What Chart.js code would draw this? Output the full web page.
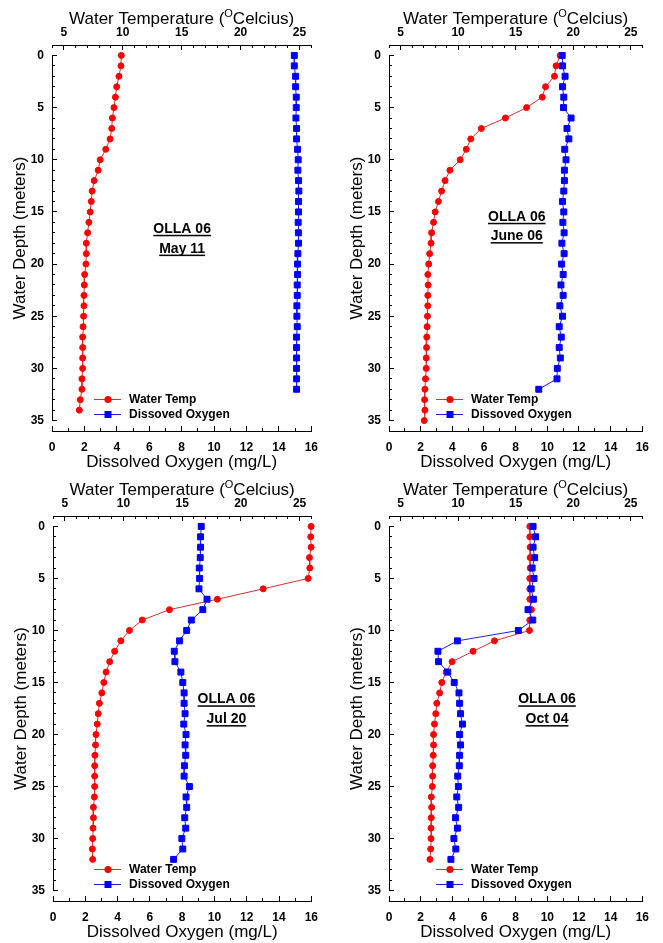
<!DOCTYPE html>
<html lang="en">
  <head>
    <meta charset="utf-8" />
    <title>OLLA 06 Profiles</title>
    <style>
      body { margin: 0; background: #fff; }
      #wrap { position: relative; width: 663px; height: 943px; }
      canvas { position: absolute; }
    </style>
  </head>
  <body>
    <div id="wrap">
      <canvas id="c1" width="332" height="470" style="left:0;top:0"></canvas>
      <canvas id="c2" width="331" height="470" style="left:332px;top:0"></canvas>
      <canvas id="c3" width="332" height="470" style="left:0;top:470px"></canvas>
      <canvas id="c4" width="331" height="470" style="left:332px;top:470px"></canvas>
    </div>

    <script src="https://cdn.jsdelivr.net/npm/chart.js"></script>

    <script>
      // depth of each sample (m), shared by every profile
      const depths = [0, 1, 2, 3, 4, 5, 6, 7, 8, 9, 10, 11, 12, 13, 14, 15, 16, 17,
        18, 19, 20, 21, 22, 23, 24, 25, 26, 27, 28, 29, 30, 31, 32, 33, 34, 35];

      const may11Temp = [9.88, 9.85, 9.68, 9.49, 9.38, 9.26, 9.12, 9.07, 8.93, 8.56, 8.09, 7.92,
        7.58, 7.41, 7.33, 7.24, 7.13, 7.02, 6.91, 6.91, 6.88, 6.77, 6.74, 6.71, 6.71, 6.68, 6.63,
        6.6, 6.6, 6.6, 6.6, 6.54, 6.54, 6.4, 6.32];
      const may11Oxygen = [14.95, 14.95, 15.03, 15.03, 15.07, 15.07, 15.05, 15.09, 15.09, 15.15,
        15.19, 15.17, 15.21, 15.23, 15.21, 15.21, 15.19, 15.2, 15.21, 15.17, 15.15, 15.15, 15.13,
        15.13, 15.11, 15.11, 15.13, 15.09, 15.09, 15.09, 15.09, 15.09, 15.09];

      const jun06Temp = [18.87, 18.51, 18.37, 17.59, 17.31, 15.95, 14.11, 12.02, 11.1, 10.71,
        10.18, 9.29, 8.87, 8.57, 8.29, 8.01, 7.87, 7.7, 7.65, 7.53, 7.45, 7.37, 7.4, 7.37, 7.37,
        7.34, 7.31, 7.28, 7.26, 7.23, 7.23, 7.17, 7.12, 7.09, 7.12, 7.06];
      const jun06Oxygen = [10.94, 10.96, 11.12, 10.96, 11.04, 11.02, 11.5, 11.24, 11.36, 11.1,
        11.18, 11.08, 11.08, 11.04, 10.96, 11.04, 10.98, 11.06, 10.92, 11.06, 10.9, 11.0, 10.86,
        11.0, 10.79, 10.96, 10.75, 10.88, 10.75, 10.82, 10.63, 10.61, 9.46];

      const jul20Temp = [25.98, 25.95, 25.98, 25.84, 25.87, 25.73, 21.9, 18.0, 13.92, 11.6, 10.51,
        9.78, 9.25, 8.83, 8.52, 8.33, 8.16, 7.95, 7.85, 7.77, 7.66, 7.62, 7.57, 7.55, 7.55, 7.55,
        7.52, 7.44, 7.44, 7.41, 7.38, 7.35, 7.38];
      const jul20Oxygen = [9.18, 9.14, 9.14, 9.12, 9.06, 9.08, 9.04, 9.54, 9.28, 8.57, 8.28, 7.84,
        7.51, 7.55, 7.92, 8.04, 8.12, 8.12, 8.18, 8.1, 8.24, 8.18, 8.22, 8.14, 8.12, 8.45, 8.24,
        8.28, 8.16, 8.22, 7.98, 8.04, 7.47];

      const oct04Temp = [16.23, 16.23, 16.26, 16.26, 16.26, 16.23, 16.23, 16.23, 16.37, 16.23,
        16.2, 13.16, 11.3, 9.48, 8.96, 8.59, 8.4, 8.15, 8.06, 7.95, 7.87, 7.87, 7.84, 7.79, 7.79,
        7.76, 7.67, 7.7, 7.67, 7.65, 7.65, 7.62, 7.56];
      const oct04Oxygen = [9.1, 9.26, 9.1, 9.2, 9.04, 9.16, 8.98, 9.12, 8.78, 9.08, 8.17, 4.32,
        3.09, 3.13, 3.71, 4.12, 4.42, 4.46, 4.52, 4.64, 4.46, 4.52, 4.46, 4.44, 4.34, 4.38, 4.28,
        4.4, 4.2, 4.32, 4.1, 4.22, 3.91];

      // axis ticks
      const tempTicks = [5, 10, 15, 20, 25];
      const tempMinorTicks = [4, 5, 6, 7, 8, 9, 10, 11, 12, 13, 14, 15, 16, 17, 18, 19, 20, 21,
        22, 23, 24, 25, 26];
      const oxygenTicks = [0, 2, 4, 6, 8, 10, 12, 14, 16];
      const oxygenMinorTicks = [0, 1, 2, 3, 4, 5, 6, 7, 8, 9, 10, 11, 12, 13, 14, 15, 16];
      const depthTicks = [0, 5, 10, 15, 20, 25, 30, 35];

      const seriesLabels = ["Water Temp", "Dissoved Oxygen"];
      const stationName = "OLLA 06";

      const panels = [
        { id: "c1", date: "May 11", temp: may11Temp, oxygen: may11Oxygen,
          left: 52, right: 17, top: 45, legendDx: 42, note: { x: 8.03, y1: 17.0, y2: 18.9 } },
        { id: "c2", date: "June 06", temp: jun06Temp, oxygen: jun06Oxygen,
          left: 57, right: 9, top: 45, legendDx: 47, note: { x: 8.07, y1: 15.85, y2: 17.7 } },
        { id: "c3", date: "Jul 20", temp: jul20Temp, oxygen: jul20Oxygen,
          left: 53, right: 17, top: 46, legendDx: 41, note: { x: 10.74, y1: 17.0, y2: 18.9 } },
        { id: "c4", date: "Oct 04", temp: oct04Temp, oxygen: oct04Oxygen,
          left: 57, right: 9, top: 46, legendDx: 47, note: { x: 9.98, y1: 17.0, y2: 18.9 } },
      ];

      const FONT = "Arial, 'Liberation Sans', Helvetica, sans-serif";
      const tickFont = { family: FONT, size: 12, weight: "bold" };

      function toPoints(values) {
        return values.map((v, i) => ({ x: v, y: depths[i] }));
      }

      function setTicks(list) {
        return (scale) => {
          scale.ticks = list.map((v) => ({ value: v }));
        };
      }

      // titles, legend, station note and the 0-35 m left axis line
      const profileDecor = {
        id: "profileDecor",
        afterDraw(chart, args, opts) {
          const ctx = chart.ctx;
          const area = chart.chartArea;
          const ys = chart.scales.y;
          const xs = chart.scales.xOxy;
          ctx.save();

          // left axis line
          ctx.strokeStyle = "#000";
          ctx.lineWidth = 1;
          const lx = Math.round(area.left) + 0.5;
          ctx.beginPath();
          ctx.moveTo(lx, ys.getPixelForValue(depthTicks[0]));
          ctx.lineTo(lx, ys.getPixelForValue(depthTicks[depthTicks.length - 1]));
          ctx.stroke();

          // top axis title with superscript O
          const parts = [
            { t: "Water Temperature (", size: 17, dy: 0 },
            { t: "O", size: 11, dy: -7 },
            { t: "Celcius)", size: 17, dy: 0 },
          ];
          let total = 0;
          parts.forEach((p) => {
            ctx.font = `${p.size}px ${FONT}`;
            p.w = ctx.measureText(p.t).width;
            total += p.w;
          });
          let tx = (area.left + area.right) / 2 - total / 2;
          const ty = area.top - 21;
          ctx.fillStyle = "#000";
          ctx.textBaseline = "alphabetic";
          ctx.textAlign = "left";
          parts.forEach((p) => {
            ctx.font = `${p.size}px ${FONT}`;
            ctx.fillText(p.t, tx, ty + p.dy);
            tx += p.w;
          });

          // legend
          const lx0 = area.left + opts.legendDx;
          chart.data.datasets.forEach((ds, i) => {
            const ry = area.bottom - 32 + i * 15;
            ctx.strokeStyle = ds.borderColor;
            ctx.lineWidth = 1;
            ctx.beginPath();
            ctx.moveTo(lx0, ry + 0.5);
            ctx.lineTo(lx0 + 27, ry + 0.5);
            ctx.stroke();
            ctx.fillStyle = ds.pointBackgroundColor;
            const mx = lx0 + 14;
            if (ds.pointStyle === "rect") {
              ctx.fillRect(mx - 3.5, ry - 3, 7, 7);
            } else {
              ctx.beginPath();
              ctx.arc(mx, ry + 0.5, 3.6, 0, Math.PI * 2);
              ctx.fill();
            }
            ctx.fillStyle = "#000";
            ctx.font = `bold 12px ${FONT}`;
            ctx.textBaseline = "middle";
            ctx.fillText(ds.label, lx0 + 35, ry + 1);
          });

          // station + date note, underlined
          ctx.font = `bold 14px ${FONT}`;
          ctx.textAlign = "center";
          ctx.textBaseline = "alphabetic";
          ctx.fillStyle = "#000";
          const nx = xs.getPixelForValue(opts.note.x);
          [[stationName, opts.note.y1], [opts.date, opts.note.y2]].forEach(([txt, dv]) => {
            const by = ys.getPixelForValue(dv);
            ctx.fillText(txt, nx, by);
            const w = ctx.measureText(txt).width;
            ctx.fillRect(nx - w / 2, by + 2, w, 1.5);
          });

          ctx.restore();
        },
      };

      panels.forEach((p) => {
        const ctx = document.getElementById(p.id);
        const canvasH = ctx.height;

        new Chart(ctx, {
          type: "line",
          data: {
            datasets: [
              {
                label: seriesLabels[0],
                data: toPoints(p.temp),
                xAxisID: "xTemp",
                yAxisID: "y",
                borderColor: "rgb(214,48,48)",
                borderWidth: 1,
                pointStyle: "circle",
                pointRadius: 3,
                pointBorderWidth: 1,
                pointBackgroundColor: "#ff0000",
                pointBorderColor: "#ff0000",
                clip: false,
                order: 2,
              },
              {
                label: seriesLabels[1],
                data: toPoints(p.oxygen),
                xAxisID: "xOxy",
                yAxisID: "y",
                borderColor: "rgb(30,30,225)",
                borderWidth: 1,
                pointStyle: "rect",
                pointRadius: 4.2,
                pointBorderWidth: 1,
                pointBackgroundColor: "#0000ff",
                pointBorderColor: "#0000ff",
                clip: false,
                order: 1,
              },
            ],
          },
          options: {
            responsive: false,
            animation: false,
            devicePixelRatio: 1,
            indexAxis: "y",
            layout: { padding: { left: 0, top: 0, right: p.right, bottom: 0 } },
            scales: {
              xTemp: {
                type: "linear",
                axis: "x",
                position: "top",
                weight: 1,
                min: 4,
                max: 26,
                afterBuildTicks: setTicks(tempTicks),
                afterFit: (s) => { s.height = p.top; },
                ticks: { font: tickFont, color: "#000", padding: 10, autoSkip: false, maxRotation: 0 },
                grid: { drawOnChartArea: false, tickLength: -5, color: "#000", tickColor: "#000" },
                border: { color: "#000", width: 1 },
              },
              xTempMinor: {
                type: "linear",
                axis: "x",
                position: "top",
                weight: 0,
                min: 4,
                max: 26,
                afterBuildTicks: setTicks(tempMinorTicks),
                afterFit: (s) => { s.height = 0; },
                ticks: { display: false },
                grid: { drawOnChartArea: false, tickLength: -3, color: "#000", tickColor: "#000" },
                border: { display: false },
              },
              xOxy: {
                type: "linear",
                axis: "x",
                position: "bottom",
                weight: 1,
                min: 0,
                max: 16,
                afterBuildTicks: setTicks(oxygenTicks),
                afterFit: (s) => { s.height = canvasH - 431; },
                ticks: { font: tickFont, color: "#000", padding: 14, autoSkip: false, maxRotation: 0 },
                grid: { drawOnChartArea: false, tickLength: -5, color: "#000", tickColor: "#000" },
                border: { color: "#000", width: 1 },
                title: {
                  display: true,
                  text: "Dissolved Oxygen (mg/L)",
                  color: "#000",
                  font: { family: FONT, size: 17, lineHeight: 1 },
                  padding: { top: 0, bottom: -1 },
                },
              },
              xOxyMinor: {
                type: "linear",
                axis: "x",
                position: "bottom",
                weight: 0,
                min: 0,
                max: 16,
                afterBuildTicks: setTicks(oxygenMinorTicks),
                afterFit: (s) => { s.height = 0; },
                ticks: { display: false },
                grid: { drawOnChartArea: false, tickLength: -3, color: "#000", tickColor: "#000" },
                border: { display: false },
              },
              y: {
                type: "linear",
                axis: "y",
                position: "left",
                weight: 1,
                reverse: true,
                min: -1,
                max: 36,
                afterBuildTicks: setTicks(depthTicks),
                afterFit: (s) => { s.width = p.left; },
                ticks: { font: tickFont, color: "#000", padding: 13, autoSkip: false },
                grid: { drawOnChartArea: false, tickLength: -5, color: "#000", tickColor: "#000" },
                border: { display: false },
                title: {
                  display: true,
                  text: "Water Depth (meters)",
                  color: "#000",
                  font: { family: FONT, size: 17, lineHeight: 1 },
                  padding: { top: p.left - 40, bottom: 0 },
                },
              },
              yMinor: {
                type: "linear",
                axis: "y",
                position: "left",
                weight: 0,
                reverse: true,
                min: -1,
                max: 36,
                afterBuildTicks: setTicks(depths),
                afterFit: (s) => { s.width = 0; },
                ticks: { display: false },
                grid: { drawOnChartArea: false, tickLength: -3, color: "#000", tickColor: "#000" },
                border: { display: false },
              },
            },
            plugins: {
              legend: { display: false },
              tooltip: { enabled: false },
              profileDecor: { legendDx: p.legendDx, note: p.note, date: p.date },
            },
          },
          plugins: [profileDecor],
        });
      });
    </script>
  </body>
</html>
